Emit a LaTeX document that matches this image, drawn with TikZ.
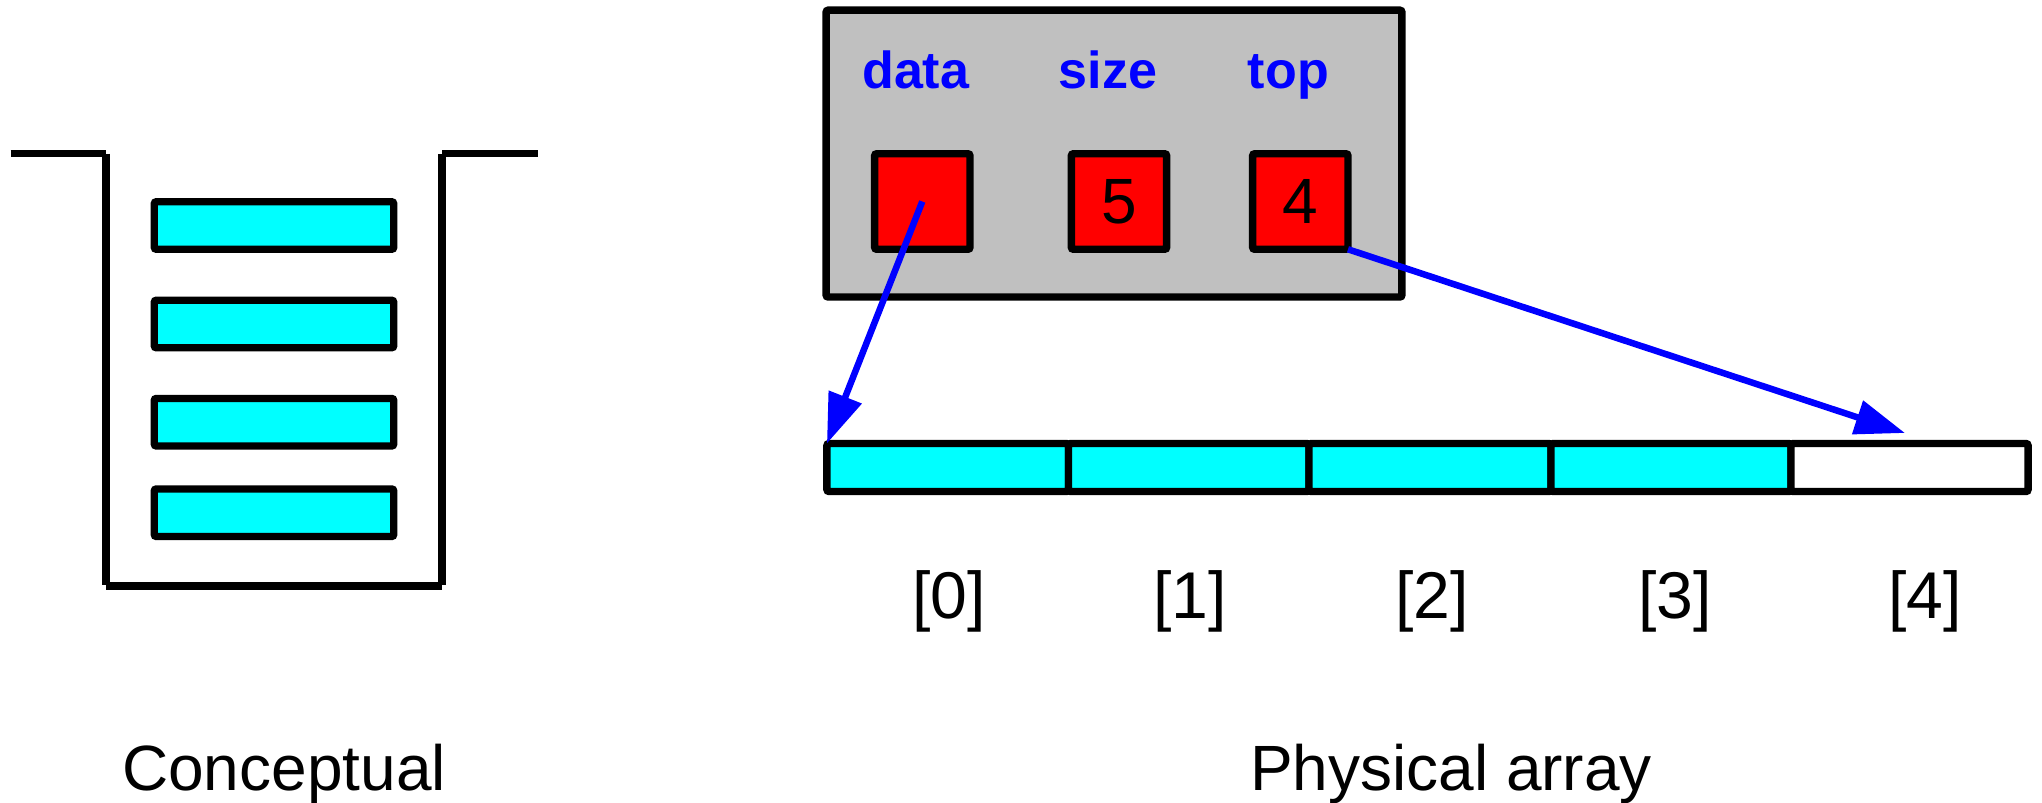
\documentclass[tikz,border=0pt]{standalone}
\usepackage{fontspec}
\setmainfont{Liberation Sans}
\usetikzlibrary{arrows.meta}
\definecolor{cellcyan}{RGB}{0,255,255}
\definecolor{boxred}{RGB}{255,0,0}
\definecolor{boxgray}{RGB}{192,192,192}
\definecolor{ptrblue}{RGB}{0,0,255}
\begin{document}
\begin{tikzpicture}[x=0.01cm,y=-0.01cm,
  outline/.style={draw=black,line width=2.1pt,rounded corners=0.6pt,inner sep=0pt,outer sep=0pt},
  bar/.style={outline,fill=cellcyan,minimum width=2.393cm,minimum height=0.475cm},
  wall/.style={line width=2.1pt},
  frame/.style={outline,fill=boxgray,minimum width=5.755cm,minimum height=2.867cm},
  field/.style={outline,fill=boxred,minimum width=0.953cm,minimum height=0.955cm,font=\fontsize{18.2}{20}\selectfont},
  fieldlabel/.style={text=ptrblue,font=\bfseries\fontsize{14.8}{16}\selectfont,anchor=base,inner sep=0pt},
  cell/.style={outline,minimum height=0.48cm},
  index/.style={font=\fontsize{18.8}{20}\selectfont,inner sep=0pt},
  caption/.style={font=\fontsize{18.2}{20}\selectfont,anchor=base,inner sep=0pt},
  pointer/.style={draw=ptrblue,line width=1.85pt,-{Triangle[length=0.5cm,width=0.34cm]}}
]
\useasboundingbox (0,0) rectangle (2042,802);

% conceptual stack container
\draw[wall] (10.7,153.5) -- (106,153.5);
\draw[wall] (106,153.5) -- (106,585);
\draw[wall] (106,586) -- (442,586);
\draw[wall] (442,153.5) -- (442,585);
\draw[wall] (442,153.5) -- (537.5,153.5);

\node[bar] (b1) at (274,225.5) {};
\node[bar] (b2) at (274,324) {};
\node[bar] (b3) at (274,422.2) {};
\node[bar] (b4) at (274,512.7) {};

\node[caption] (cap1) at (284,790) {Conceptual};

% struct
\node[frame] (frame) at (1114,153.6) {};
\node[fieldlabel] (ldata) at (915.7,88) {data};
\node[fieldlabel] (lsize) at (1107.8,88) {size};
\node[fieldlabel] (ltop) at (1288.4,88) {top};
\node[field] (fdata) at (922.3,201.5) {};
\node[field] (fsize) at (1119,201.5) {5};
\node[field] (ftop) at (1300.3,201.5) {4};

% array
\node[cell,fill=cellcyan,minimum width=2.415cm] (c0) at (947.75,467.5) {};
\node[cell,fill=cellcyan,minimum width=2.405cm] (c1) at (1188.75,467.5) {};
\node[cell,fill=cellcyan,minimum width=2.42cm] (c2) at (1430,467.5) {};
\node[cell,fill=cellcyan,minimum width=2.40cm] (c3) at (1671,467.5) {};
\node[cell,fill=white,minimum width=2.37cm] (c4) at (1909.5,467.5) {};

\node[index] (i0) at (949,601) {[0]};
\node[index] (i1) at (1190,601) {[1]};
\node[index] (i2) at (1432,601) {[2]};
\node[index] (i3) at (1675,601) {[3]};
\node[index] (i4) at (1925,601) {[4]};

\node[caption] (cap2) at (1451,790) {Physical array};

% pointers
\coordinate (tip4) at (1905,433);
\draw[pointer] (fdata.center) -- (c0.north west);
\draw[pointer] (ftop.south east) -- (tip4);
\end{tikzpicture}
\end{document}
